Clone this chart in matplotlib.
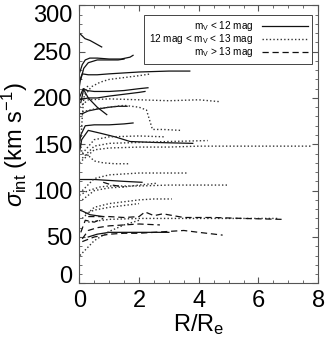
import matplotlib.pyplot as plt
from matplotlib.ticker import MultipleLocator

plt.rcParams['font.family'] = ['Liberation Sans', 'DejaVu Sans']
plt.rcParams['mathtext.fontset'] = 'custom'
plt.rcParams['mathtext.rm'] = 'Liberation Sans'
plt.rcParams['mathtext.it'] = 'Liberation Sans:italic'

# m_V < 12 mag (solid)
bright = [
    ([0.0, 0.19, 0.36, 0.75], [270, 264, 262, 255]),
    ([0.02, 0.1, 0.2, 0.35, 0.6, 1.0, 1.4, 1.7, 1.8], [228, 236, 241, 243, 243, 242, 242, 244, 246]),
    ([0.05, 0.15, 0.3, 0.6, 1.0, 1.3, 1.5], [220, 232, 238, 241, 241, 241, 242]),
    ([0.0, 0.05, 0.1, 0.3, 0.6, 1.0, 2.0, 3.0, 3.7], [212, 222, 226, 225, 225, 226, 228, 229, 229]),
    ([0.05, 0.15, 0.25, 0.5, 1.0, 1.5, 2.0, 2.3], [195, 210, 208, 207, 207, 208, 210, 211]),
    ([0.0, 0.3, 0.6, 1.0, 1.5, 2.0, 2.2], [198, 200, 200, 202, 204, 206, 207]),
    ([0.0, 0.13, 0.3, 0.6, 0.92], [200, 210, 200, 190, 182]),
    ([0.0, 0.1, 0.3, 0.6, 1.0, 1.3, 1.6], [183, 183, 186, 188, 190, 191, 191]),
    ([0.0, 0.05, 0.2, 0.5, 1.0, 1.5, 1.8], [150, 160, 170, 171, 171, 172, 173]),
    ([0.0, 0.08, 0.3, 0.7, 1.2, 1.7, 2.5, 3.8], [140, 155, 165, 162, 158, 153, 152, 151]),
    ([0.0, 0.5, 1.0, 1.5, 2.1], [112, 112, 111, 110, 109]),
    ([0.0, 0.1, 0.36, 0.8], [79, 78, 74, 72]),
    ([0.3, 0.6, 1.0, 1.5, 2.0, 2.5, 3.0], [50, 53, 55, 55, 55, 55, 55]),
]

# 12 mag < m_V < 13 mag (dotted)
middle = [
    ([0.2, 0.4, 0.7, 1.0, 1.5, 2.0, 2.4], [203, 212, 217, 220, 222, 224, 226]),
    ([0.0, 0.3, 1.0, 2.0, 3.0, 4.0, 4.7], [190, 198, 199, 198, 197, 198, 196]),
    ([0.1, 0.5, 1.0, 1.5, 2.0, 2.25, 2.45, 2.8, 3.4], [185, 188, 190, 192, 190, 187, 166, 166, 165]),
    ([0.1, 0.5, 1.0, 2.0, 2.9], [140, 155, 158, 159, 158]),
    ([0.1, 0.5, 1.0, 2.0, 3.0, 4.3], [135, 148, 151, 152, 153, 154]),
    ([0.0, 0.5, 1.0, 2.0, 3.0, 4.0, 5.0, 6.0, 7.0, 7.8], [130, 144, 146, 147, 147, 148, 148, 148, 148, 148]),
    ([0.0, 0.1, 0.3, 0.5, 0.8, 1.2, 1.7], [155, 140, 138, 132, 130, 129, 129]),
    ([0.1, 0.5, 1.0, 2.0, 3.0, 3.6], [100, 113, 117, 119, 119, 119]),
    ([0.0, 0.3, 0.7, 1.0, 2.0, 3.0, 4.0, 5.0], [95, 100, 104, 105, 105, 106, 106, 106]),
    ([0.1, 0.5, 1.0, 1.5, 2.0, 2.6], [90, 100, 103, 104, 106, 108]),
    ([0.1, 0.5, 1.0, 1.5, 2.0, 2.5, 3.1], [70, 82, 86, 88, 90, 91, 91]),
    ([0.2, 0.5, 1.0, 1.5, 2.0], [75, 79, 82, 84, 86]),
    ([0.02, 0.2, 0.5, 1.0, 1.5, 2.0], [30, 36, 46, 56, 63, 68]),
    ([0.3, 1.0, 2.0, 3.0, 4.0, 5.0, 6.0, 6.7], [66, 69, 70, 70, 70, 70, 70, 70]),
    ([0.05, 0.1, 0.15, 0.3], [150, 180, 200, 215]),
]

# m_V > 13 mag (dashed)
faint = [
    ([0.3, 0.7, 1.0, 1.5, 2.0, 2.2, 2.5, 2.8, 3.5, 4.5, 5.5, 6.8], [72, 72, 72, 71, 72, 77, 73, 75, 71, 71, 70, 69]),
    ([0.1, 0.3, 0.6, 1.0, 1.5, 2.0, 2.7], [48, 57, 60, 62, 63, 64, 63]),
    ([0.1, 0.5, 1.0, 1.5, 2.0, 2.5, 3.0, 3.5, 4.0, 4.8], [45, 50, 53, 54, 54, 55, 56, 57, 55, 52]),
    ([0.05, 0.2, 0.5, 0.8], [55, 68, 66, 70]),
    ([0.8, 1.1, 1.5], [109, 106, 104]),
]

fig = plt.figure(figsize=(3.27, 3.42), dpi=100)
ax = fig.add_axes([0.2425, 0.1716, 0.7305, 0.813])

for i, (x, y) in enumerate(bright):
    ax.plot(x, y, color='#111111', linestyle='-', linewidth=0.9,
            label=r'm$_{\rm V}$ < 12 mag' if i == 0 else None)
for i, (x, y) in enumerate(middle):
    ax.plot(x, y, color='#333333', linestyle=(0, (1, 1.6)), linewidth=1.0,
            label=r'12 mag < m$_{\rm V}$ < 13 mag' if i == 0 else None)
for i, (x, y) in enumerate(faint):
    ax.plot(x, y, color='#111111', linestyle=(0, (5, 3)), linewidth=0.9,
            label=r'm$_{\rm V}$ > 13 mag' if i == 0 else None)

ax.set_xlim(0, 8)
ax.set_ylim(0, 300)
ax.xaxis.set_major_locator(MultipleLocator(2))
ax.xaxis.set_minor_locator(MultipleLocator(0.5))
ax.yaxis.set_major_locator(MultipleLocator(50))
ax.yaxis.set_minor_locator(MultipleLocator(10))
ax.tick_params(which='both', direction='in', top=True, right=True, labelsize=17, color='#555555')
ax.tick_params(which='major', length=4, width=0.8, pad=5)
ax.tick_params(which='minor', length=2.5, width=0.6)
for s in ax.spines.values():
    s.set_linewidth(0.8)
    s.set_color('#555555')

ax.set_xlabel(r'R/R$_{\rm e}$', fontsize=17, labelpad=0)
ax.set_ylabel(r'$\sigma_{\rm int}$ (km s$^{-1}$)', fontsize=17, labelpad=2)

leg = ax.legend(loc='upper right', fontsize=7.2, markerfirst=False, handlelength=4.6,
                fancybox=False, edgecolor='#444444', framealpha=1,
                borderpad=0.45, labelspacing=-0.1, handletextpad=0.85,
                borderaxespad=0, bbox_to_anchor=(0.975, 0.965))
leg.get_frame().set_linewidth(0.7)

# end labels sit inside the axis span, as in the original
fig.canvas.draw()
for t in ax.get_yticklabels():
    if t.get_text() == '300':
        t.set_va('top')
    elif t.get_text() == '0':
        t.set_va('baseline')

fig.savefig('out.png', dpi=100)
